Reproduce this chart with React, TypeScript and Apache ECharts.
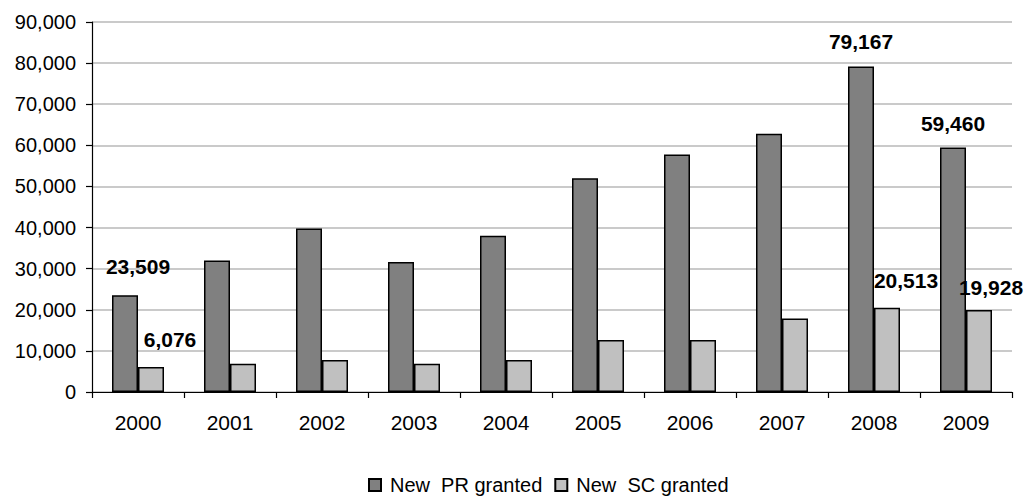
import React, { useEffect, useRef } from "react";
import * as echarts from "echarts";

const categories = ["2000", "2001", "2002", "2003", "2004", "2005", "2006", "2007", "2008", "2009"];
const prValues = [23509, 32000, 39800, 31600, 38000, 52000, 57800, 62800, 79167, 59460];
const scValues = [6076, 6900, 7800, 6900, 7800, 12650, 12650, 17900, 20513, 19928];
const seriesNames = ["New  PR granted", "New  SC granted"];
const yTicks = { min: 0, max: 90000, interval: 10000 };

// which points carry a value label, with label placement tweaks
const prLabels: Record<number, { dx: number; dist: number }> = {
  0: { dx: 13, dist: 18 },
  8: { dx: 0, dist: 15 },
  9: { dx: 0, dist: 14 },
};
const scLabels: Record<number, { dx: number; dist: number }> = {
  0: { dx: 19, dist: 17 },
  8: { dx: 19, dist: 17 },
  9: { dx: 12, dist: 12 },
};

const FONT = "'Liberation Sans', Arial, Helvetica, sans-serif";
const fmt = (v: number) => v.toLocaleString("en-US");

function buildData(values: number[], labels: Record<number, { dx: number; dist: number }>) {
  return values.map((v, i) => {
    const l = labels[i];
    if (!l) return { value: v, label: { show: false } };
    return {
      value: v,
      label: {
        show: true,
        position: "top",
        distance: l.dist,
        offset: [l.dx, 0],
        formatter: (p: any) => fmt(p.value),
        fontFamily: FONT,
        fontSize: 21,
        fontWeight: "bold",
        color: "#000",
      },
    };
  });
}

export default function App() {
  const ref = useRef<HTMLDivElement>(null);
  useEffect(() => {
    if (!ref.current) return;
    const chart = echarts.init(ref.current, undefined, { renderer: "svg" });
    chart.setOption({
      animation: false,
      backgroundColor: "#fff",
      textStyle: { fontFamily: FONT },
      grid: { left: 92, right: 14, top: 22, bottom: 105, containLabel: false },
      legend: {
        top: 475,
        left: 368,
        padding: 0,
        itemWidth: 12,
        itemHeight: 12,
        itemGap: 12,
        icon: "rect",
        textStyle: { fontFamily: FONT, fontSize: 20, color: "#000", padding: [0, 0, 0, 4] },
        data: seriesNames,
      },
      xAxis: {
        type: "category",
        data: categories,
        boundaryGap: true,
        axisLine: { show: true, lineStyle: { color: "#000", width: 1.2 } },
        axisTick: { show: true, length: 6, alignWithLabel: false, lineStyle: { color: "#000", width: 1.2 } },
        axisLabel: { fontFamily: FONT, fontSize: 21, color: "#000", margin: 20 },
        splitLine: { show: false },
      },
      yAxis: {
        type: "value",
        min: yTicks.min,
        max: yTicks.max,
        interval: yTicks.interval,
        axisLine: { show: true, lineStyle: { color: "#000", width: 1.2 } },
        axisTick: { show: true, length: 6, lineStyle: { color: "#000", width: 1.2 } },
        axisLabel: { fontFamily: FONT, fontSize: 20, color: "#000", margin: 16, formatter: (v: number) => fmt(v) },
        splitLine: { show: true, lineStyle: { color: "#b8b8b8", width: 1.5 } },
      },
      series: [
        {
          name: seriesNames[0],
          type: "bar",
          barWidth: 26,
          barGap: "0%",
          itemStyle: { color: "#808080", borderColor: "#000", borderWidth: 1.5 },
          data: buildData(prValues, prLabels),
        },
        {
          name: seriesNames[1],
          type: "bar",
          barWidth: 26,
          barGap: "0%",
          itemStyle: { color: "#c0c0c0", borderColor: "#000", borderWidth: 1.5 },
          data: buildData(scValues, scLabels),
        },
      ],
    });
    return () => chart.dispose();
  }, []);
  return (
    <div
      ref={ref}
      style={{ position: "fixed", left: 0, top: 0, width: 1026, height: 497, background: "#fff" }}
    />
  );
}
